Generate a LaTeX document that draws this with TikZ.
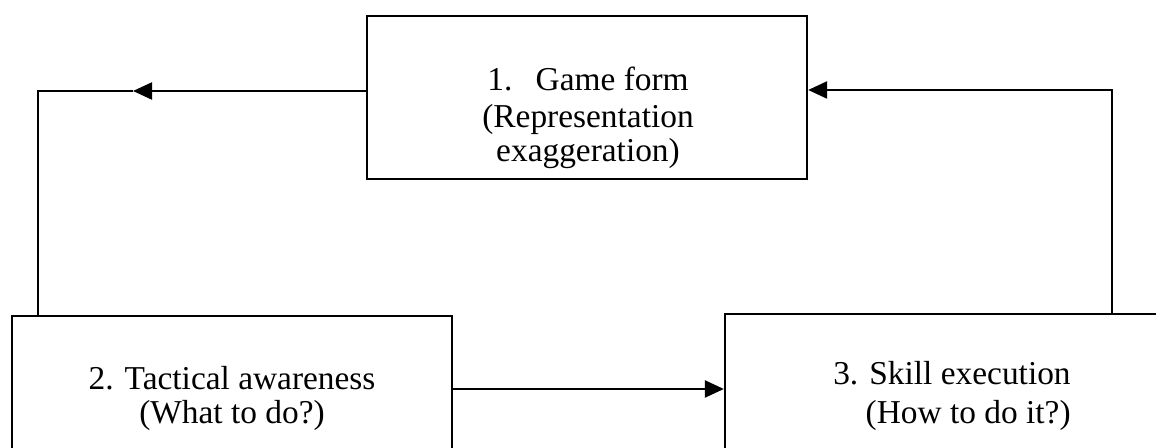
\documentclass[tikz,border=0pt]{standalone}
\usepackage{fontspec}
\setmainfont{Liberation Serif}
\usetikzlibrary{arrows.meta}
\begin{document}
\begin{tikzpicture}[
    box/.style={draw, line width=1.3pt, inner sep=0pt},
    txt/.style={align=center, font=\fontsize{19}{19.5}\selectfont, inner sep=0pt},
    link/.style={line width=1.3pt},
    arr/.style={link, -{Triangle[length=0.38cm, width=0.34cm]}}
]
    \useasboundingbox (0,0) rectangle (23.12,8.96);

    % the three stages
    \node[box, minimum width=8.8cm, minimum height=3.26cm] (game) at (11.74,7.01) {};
    \node[box, minimum width=8.8cm, minimum height=3.1cm] (tactic) at (4.64,1.09) {};
    \node[box, minimum width=9.2cm, minimum height=3.1cm] (skill) at (19.1,1.13) {};

    \node[txt] (gametxt) at (11.76,6.6) {1.\hspace{0.7em}Game form\\[1pt](Representation\\exaggeration)};
    \node[txt] (tactictxt) at (4.64,0.99) {2. Tactical awareness\\(What to do?)};
    \node[txt, align=right, anchor=east] (skilltxt) at (21.42,1.04) {3. Skill execution\\[3pt](How to do it?)};

    % loop
    \coordinate (ltip) at (2.66,7.14);
    \coordinate (lcorner) at (0.76,7.14);
    \coordinate (rcorner) at (22.24,7.16);
    \coordinate (mid) at (9.5,1.18);
    \draw[arr] (game.west |- ltip) -- (ltip);
    \draw[link] (ltip) -- (lcorner) -- (lcorner |- tactic.north);
    \draw[arr] (rcorner |- skill.north) -- (rcorner) -- (game.east |- rcorner);
    \draw[arr] (tactic.east |- mid) -- (skill.west |- mid);
\end{tikzpicture}
\end{document}
